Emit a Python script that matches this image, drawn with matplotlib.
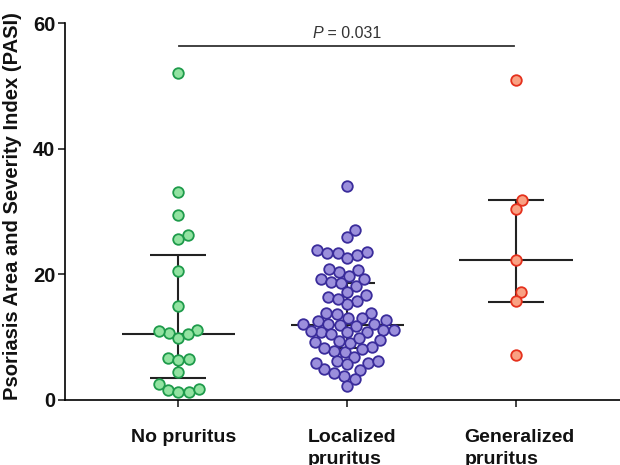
import numpy as np
import pandas as pd
import matplotlib
matplotlib.use("Agg")
import matplotlib.pyplot as plt

# Values (PASI per patient)
no_pruritus = [52.0, 33.1, 29.5, 26.2, 25.6, 20.6, 15.0, 11.1, 10.6, 9.8, 10.5, 10.9,
               6.7, 6.3, 6.5, 4.5, 2.5, 1.6, 1.3, 1.3, 1.7]
localized = [34.1, 27.0, 25.9, 23.9, 23.4, 23.0, 22.6, 23.4, 23.5, 20.4, 20.9, 20.7,
             19.3, 18.7, 18.2, 18.6, 19.2, 19.8, 17.2, 16.4, 15.8, 15.3, 16.1, 16.7,
             13.9, 13.6, 13.9, 12.7, 13.1, 12.6, 13.0, 12.1, 12.1, 11.8, 12.0, 12.1,
             11.1, 10.8, 10.8, 10.5, 10.8, 11.0, 11.1, 9.5, 9.2, 8.4, 8.1, 7.6, 7.8,
             8.3, 9.1, 9.4, 9.8, 6.9, 6.2, 5.8, 4.8, 4.9, 5.7, 5.9, 6.2, 3.8, 3.3,
             4.3, 2.2]
generalized = [51.0, 31.8, 30.4, 22.2, 17.2, 15.7, 7.1]

groups = ["No pruritus", "Localized\npruritus", "Generalized\npruritus"]
medians = [10.5, 12.0, 22.2]
q_low = [3.45, 8.2, 15.6]
q_high = [23.1, 18.6, 31.8]

face_colors = ["#92E3A1", "#9B8FDC", "#F9A183"]
edge_colors = ["#1E9B4B", "#3A2C9B", "#E5311D"]


def beeswarm(values, d, sx, sy):
    """Simple beeswarm: returns x offsets (data units) so markers
       stay at least d pixels apart. sx, sy are pixels per data unit."""
    vals = np.asarray(values, dtype=float)
    order = np.argsort(vals)
    placed = []
    offsets = np.zeros(len(vals))
    for idx in order:
        y = vals[idx] * sy
        cands = [0.0]
        for px, py in placed:
            dy = abs(py - y)
            if dy < d:
                dx = np.sqrt(d * d - dy * dy)
                cands += [px + dx, px - dx]
        cands.sort(key=abs)
        for c in cands:
            ok = all((c - px) ** 2 + (y - py) ** 2 >= d * d - 1e-6 for px, py in placed)
            if ok:
                placed.append((c, y))
                offsets[idx] = c / sx
                break
    return offsets


plt.rcParams["font.family"] = ["Liberation Sans", "DejaVu Sans"]

fig = plt.figure(figsize=(6.2, 4.65), dpi=100)
ax = fig.add_axes([0.105, 0.14, 0.895, 0.8105])

xlim = (-0.669, 2.615)
ylim = (0, 60)
sx = 0.895 * 620 / (xlim[1] - xlim[0])
sy = 0.8105 * 465 / (ylim[1] - ylim[0])

for i, vals in enumerate([no_pruritus, localized, generalized]):
    offs = beeswarm(vals, 10.5, sx, sy)
    ax.scatter(i + offs, vals, s=58, color=face_colors[i], edgecolors=edge_colors[i],
               linewidths=1.3, zorder=3)

# median and interquartile range
for i in range(3):
    ax.hlines(medians[i], i - 0.335, i + 0.335, color="#222222", lw=1.5, zorder=2)
    ax.hlines([q_low[i], q_high[i]], i - 0.165, i + 0.165, color="#222222", lw=1.5, zorder=2)
    ax.vlines(i, q_low[i], q_high[i], color="#222222", lw=1.5, zorder=2)

# significance bar
ax.plot([0.005, 1.99], [56.3, 56.3], color="#333333", lw=1.3, clip_on=False)
ax.text(0.858, 58.4, "P", ha="right", va="center", fontsize=11.5,
        fontstyle="italic", color="#333333")
ax.text(0.858, 58.4, " = 0.031", ha="left", va="center", fontsize=11.5,
        color="#333333")

ax.set_xlim(*xlim)
ax.set_ylim(*ylim)
ax.set_yticks([0, 20, 40, 60])

# tick marks on the groups, labels nudged a little to the right
ax.set_xticks([0, 1, 2], minor=True)
ax.set_xticks([0.03, 1.03, 2.02])
ax.set_xticklabels(groups, fontsize=14, fontweight="bold", ha="center", va="top",
                   multialignment="left", linespacing=1.4, color="#111111")
ax.tick_params(axis="x", which="major", length=0, pad=21)
ax.tick_params(axis="x", which="minor", length=5, width=1.2, colors="#222222")
ax.tick_params(axis="y", length=5, width=1.2, labelsize=14.5, pad=2, colors="#222222")
for lab in ax.get_yticklabels():
    lab.set_fontweight("bold")
    lab.set_color("#111111")
ax.set_ylabel("Psoriasis Area and Severity Index (PASI)", fontsize=14.5,
              fontweight="bold", color="#111111")
ax.yaxis.set_label_coords(-0.078, 0.515)
ax.spines["top"].set_visible(False)
ax.spines["right"].set_visible(False)
ax.spines["left"].set_linewidth(1.2)
ax.spines["bottom"].set_linewidth(1.2)

fig.savefig("out.png", dpi=100)
